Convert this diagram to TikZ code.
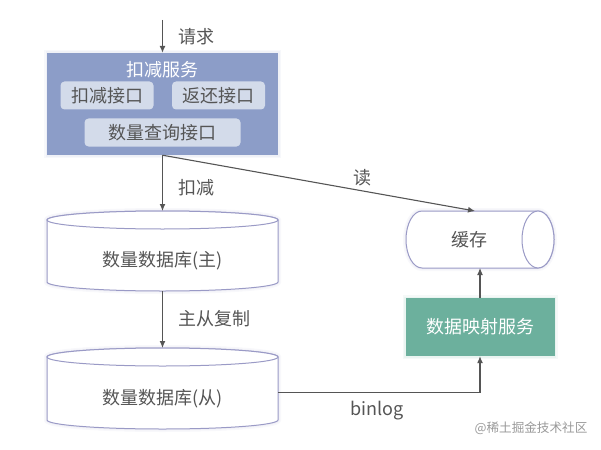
\documentclass[tikz,border=0pt]{standalone}
\usepackage{fontspec}
\setmainfont{Noto Sans CJK SC}
\usetikzlibrary{arrows.meta}
\definecolor{svcblue}{HTML}{8C9DC8}
\definecolor{apiblue}{HTML}{D3DBEA}
\definecolor{mapgreen}{HTML}{6CB09D}
\definecolor{dbline}{HTML}{9A9AC6}
\definecolor{inkgray}{HTML}{555555}
\tikzset{
  glow/.style={preaction={draw=#1!7,line width=6pt},preaction={draw=#1!14,line width=3pt}},
  txt/.style={text=inkgray,font=\fontsize{18}{21}\selectfont,inner sep=0pt},
  arr/.style={draw=inkgray,line width=1.1pt,-{Latex[length=7pt,width=6pt]}},
  api/.style={txt,fill=apiblue,rounded corners=4pt,minimum height=28pt},
  slot/.style={inner sep=0pt,outer sep=0pt},
  edge/.style={draw=dbline,line width=1pt,fill=white}
}
\newcommand{\drawdb}[1]{
\draw[edge,glow=dbline] ([yshift=-9pt]#1.north west) arc[start angle=180,end angle=0,x radius=115.5pt,y radius=9pt] -- ([yshift=9pt]#1.south east) arc[start angle=0,end angle=-180,x radius=115.5pt,y radius=9pt] -- cycle;
\draw[edge] ([yshift=-9pt]#1.north) ellipse[x radius=115.5pt,y radius=9pt];
}
\begin{document}
\begin{tikzpicture}[x=1pt,y=-1pt]
\useasboundingbox (0,0) rectangle (601,449);
% service on top
\node[fill=svcblue,glow=svcblue,minimum width=231pt,minimum height=102pt,inner sep=0pt] (svc) at (162.5,104) {};
\node[txt,text=white] (svctitle) at (162.5,70) {扣减服务};
\node[api,minimum width=93pt] (apidec) at (107,95.5) {扣减接口};
\node[api,minimum width=93pt] (apiback) at (218.5,95.5) {返还接口};
\node[api,minimum width=156pt] (apiquery) at (162.5,132.5) {数量查询接口};
\coordinate (start) at (162.5,20);
\draw[arr] (start) -- (svc.north);
\node[txt] (lblreq) at (196,37) {请求};
% databases
\node[slot,minimum width=231pt,minimum height=80pt] (dbmain) at (162.5,251) {};
\drawdb{dbmain}
\node[txt] (dbmaintxt) at (162.5,260.5) {数量数据库(主)};
\node[slot,minimum width=231pt,minimum height=81pt] (dbslave) at (162.5,388.5) {};
\drawdb{dbslave}
\node[txt] (dbslavetxt) at (162.5,398.5) {数量数据库(从)};
\draw[arr] (svc.south) -- (dbmain.north);
\node[txt] (lbldec) at (196,188) {扣减};
\draw[arr] (dbmain.south) -- (dbslave.north);
\node[txt] (lblcopy) at (214,319) {主从复制};
% cache side
\node[slot,minimum width=148pt,minimum height=57pt] (cache) at (480,239.5) {};
\draw[edge,glow=dbline] ([xshift=16pt]cache.north west) -- ([xshift=-16pt]cache.north east) arc[start angle=90,end angle=-90,x radius=16pt,y radius=28.5pt] -- ([xshift=16pt]cache.south west) arc[start angle=270,end angle=90,x radius=16pt,y radius=28.5pt] -- cycle;
\draw[edge] ([xshift=-16pt]cache.east) ellipse[x radius=16pt,y radius=28.5pt];
\node[txt] (cachetxt) at (469,240) {缓存};
\node[txt,text=white,fill=mapgreen,glow=mapgreen,minimum width=149pt,minimum height=58pt] (map) at (480,327) {数据映射服务};
\coordinate (cachein) at (475,211);
\draw[arr] (svc.south) -- (cachein);
\node[txt] (lblread) at (362,178) {读};
\draw[arr] (map.north) -- (cache.south);
\draw[arr] ([yshift=-4pt]dbslave.east) -| (map.south);
\node[txt] (lblbin) at (377,410.5) {binlog};
\node[text=black!40,font=\fontsize{12.6}{15}\selectfont,inner sep=0pt] (mark) at (531,428) {@稀土掘金技术社区};
\end{tikzpicture}
\end{document}
